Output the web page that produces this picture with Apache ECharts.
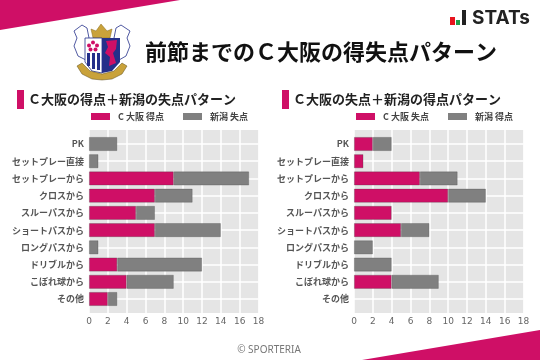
<!DOCTYPE html>
<html>
<head>
<meta charset="utf-8">
<style>
html,body{margin:0;padding:0;background:#fff;}
#main{width:540px;height:360px;}
</style>
<script src="https://cdn.jsdelivr.net/npm/echarts@6/dist/echarts.min.js"></script>
</head>
<body>
<div id="main"></div>
<script>
var categories = ['PK','セットプレー直接','セットプレーから','クロスから','スルーパスから','ショートパスから','ロングパスから','ドリブルから','こぼれ球から','その他'];
var leftPink = [0,0,9,7,5,7,0,3,4,2];
var leftGrey = [3,1,8,4,2,7,1,9,5,1];
var rightPink = [2,1,7,10,4,5,0,0,4,0];
var rightGrey = [2,0,4,4,0,3,2,4,5,0];
var xRange = [0,18];

var font = '"Noto Sans CJK JP"';
var pink = '#cf0f66';
var grey = '#808080';
var navy = '#25308a';
var gold = '#c9a23a';

// grid 0,1 = grey panels with the x axis, grid 2,3 = bars (points sit on the horizontal lines)
var makeX = function(i, visible) {
    return {
        type: 'value', gridIndex: i, min: xRange[0], max: xRange[1], interval: 2, show: visible,
        axisLine: {show: false}, axisTick: {show: false},
        axisLabel: {color: '#666', fontSize: 9, fontFamily: 'DejaVu Sans', margin: 4},
        splitLine: {show: true, lineStyle: {color: '#fff', width: 1.5}}
    };
};
var makeY = function(i) {
    return {
        type: 'category', gridIndex: i, data: categories, inverse: true, boundaryGap: false,
        axisLine: {show: false}, axisTick: {show: false},
        axisLabel: {color: '#555', fontSize: 9, fontWeight: 'bold', fontFamily: font, margin: 5, padding: [3,0,0,0]},
        splitLine: {show: true, lineStyle: {color: '#fff', width: 1.5}}
    };
};
var makeBlankY = function(i) {
    return {type: 'value', gridIndex: i, show: false, min: 0, max: 1, splitLine: {show: false}};
};
var makeBar = function(name, values, color, i) {
    return {
        type: 'bar', name: name, stack: 's' + i, xAxisIndex: i, yAxisIndex: i,
        data: values.map(function(v) { return v === 0 ? '-' : v; }),
        barWidth: 14, clip: false, silent: true,
        itemStyle: {color: color, borderColor: 'rgba(60,60,60,0.35)', borderWidth: 0.8}
    };
};
var makeLegend = function(names, left) {
    return {
        data: names, left: left, top: 112, itemWidth: 19, itemHeight: 7, itemGap: 19, padding: 0,
        icon: 'rect', itemStyle: {borderWidth: 0},
        textStyle: {fontSize: 9, fontWeight: 'bold', color: '#444', fontFamily: font, padding: [0,0,0,3]}
    };
};

var chart = echarts.init(document.getElementById('main'));
var option = {
    animation: false,
    backgroundColor: '#fff',
    grid: [
        {left: 89, top: 130, width: 169.5, height: 183, backgroundColor: '#e5e5e5', show: true, borderWidth: 0},
        {left: 354, top: 130, width: 169.5, height: 183, backgroundColor: '#e5e5e5', show: true, borderWidth: 0},
        {left: 89, top: 144, width: 169.5, height: 155},
        {left: 354, top: 144, width: 169.5, height: 155}
    ],
    legend: [
        makeLegend(['C 大阪 得点','新潟 失点'], 91),
        makeLegend(['C 大阪 失点','新潟 得点'], 356)
    ],
    xAxis: [makeX(0, true), makeX(1, true), makeX(2, false), makeX(3, false)],
    yAxis: [makeBlankY(0), makeBlankY(1), makeY(2), makeY(3)],
    series: [
        makeBar('C 大阪 得点', leftPink, pink, 2),
        makeBar('新潟 失点', leftGrey, grey, 2),
        makeBar('C 大阪 失点', rightPink, pink, 3),
        makeBar('新潟 得点', rightGrey, grey, 3)
    ],
    graphic: [
        {type: 'polygon', shape: {points: [[0,0],[180,0],[0,30]]}, style: {fill: pink}},
        {type: 'polygon', shape: {points: [[362,360],[540,330],[540,360]]}, style: {fill: pink}},
        // STATs logo
        {type: 'rect', shape: {x: 450, y: 17, width: 5, height: 8}, style: {fill: '#e8141e'}},
        {type: 'rect', shape: {x: 456, y: 20, width: 4, height: 5}, style: {fill: '#1f9e4a'}},
        {type: 'rect', shape: {x: 462, y: 10, width: 4, height: 15}, style: {fill: '#222'}},
        {type: 'text', style: {text: 'STATs', x: 472, y: 18, fill: '#222', fontSize: 19, fontWeight: 'bold', fontFamily: 'Inter', verticalAlign: 'middle'}},
        // crest
        {type: 'polygon', shape: {points: [[82,25],[87,28],[89,38],[86,46],[86,60],[78,56],[74,46],[77,38],[74,31]]}, style: {fill: '#fff', stroke: navy, lineWidth: 0.8}},
        {type: 'polygon', shape: {points: [[121,25],[116,28],[114,38],[119,46],[119,60],[126,56],[130,46],[127,38],[130,31]]}, style: {fill: '#fff', stroke: navy, lineWidth: 0.8}},
        {type: 'polygon', shape: {points: [[91,29],[96,31],[101,24],[107,31],[112,29],[110,38],[93,38]]}, style: {fill: gold, stroke: '#8a6d1f', lineWidth: 0.5}},
        {type: 'polygon', shape: {points: [[85,38],[102,38],[102,73],[92,71],[85,62]]}, style: {fill: '#fff', stroke: navy, lineWidth: 0.8}},
        {type: 'rect', shape: {x: 87, y: 53, width: 3, height: 13}, style: {fill: navy}},
        {type: 'rect', shape: {x: 92, y: 53, width: 3, height: 16}, style: {fill: navy}},
        {type: 'rect', shape: {x: 97, y: 53, width: 3, height: 17}, style: {fill: navy}},
        {type: 'polygon', shape: {points: [[102,38],[120,38],[120,62],[112,71],[102,73]]}, style: {fill: navy}},
        {type: 'polygon', shape: {points: [[106,41],[117,40],[116,49],[113,53],[116,63],[109,66],[110,57],[105,53],[108,47]]}, style: {fill: pink}},
        {type: 'circle', shape: {cx: 93, cy: 42.5, r: 2}, style: {fill: pink}},
        {type: 'circle', shape: {cx: 89, cy: 45.5, r: 2}, style: {fill: pink}},
        {type: 'circle', shape: {cx: 97, cy: 45.5, r: 2}, style: {fill: pink}},
        {type: 'circle', shape: {cx: 90.5, cy: 49.5, r: 2}, style: {fill: pink}},
        {type: 'circle', shape: {cx: 95.5, cy: 49.5, r: 2}, style: {fill: pink}},
        {type: 'polygon', shape: {points: [[77,66],[82,63],[90,71],[102,74],[114,71],[122,63],[127,66],[122,74],[112,79],[102,80],[92,79],[82,74]]}, style: {fill: gold, stroke: '#5d4c1a', lineWidth: 0.5}},
        // titles
        {type: 'text', style: {text: '前節までのＣ大阪の得失点パターン', x: 145, y: 52, fill: '#111', fontSize: 22, fontWeight: 'bold', fontFamily: font, verticalAlign: 'middle'}},
        {type: 'rect', shape: {x: 17, y: 90, width: 7, height: 19}, style: {fill: pink}},
        {type: 'text', style: {text: 'Ｃ大阪の得点＋新潟の失点パターン', x: 28, y: 99, fill: '#222', fontSize: 13, fontWeight: 'bold', fontFamily: font, verticalAlign: 'middle'}},
        {type: 'rect', shape: {x: 282, y: 90, width: 7, height: 19}, style: {fill: pink}},
        {type: 'text', style: {text: 'Ｃ大阪の失点＋新潟の得点パターン', x: 293, y: 99, fill: '#222', fontSize: 13, fontWeight: 'bold', fontFamily: font, verticalAlign: 'middle'}},
        {type: 'text', style: {text: '© SPORTERIA', x: 269, y: 350, fill: '#777', fontSize: 10, fontFamily: 'Noto Sans', align: 'center', verticalAlign: 'middle'}}
    ]
};
chart.setOption(option);
</script>
</body>
</html>
